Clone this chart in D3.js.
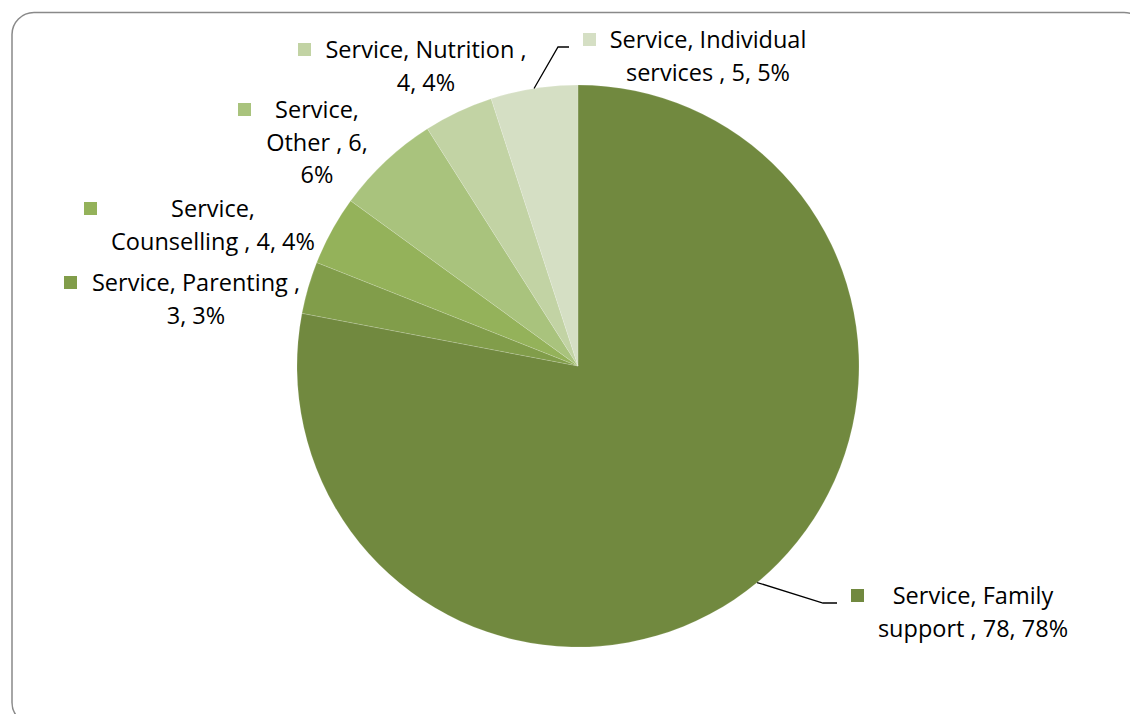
<!DOCTYPE html>
<html>
<head>
<meta charset="utf-8">
<script src="https://cdn.jsdelivr.net/npm/d3@7"></script>
<style>
  html, body { margin: 0; padding: 0; background: #fff; }
  svg { display: block; }
  text { font-family: "Open Sans", "Noto Sans", sans-serif; font-size: 23.5px; fill: #000; }
</style>
</head>
<body>
<svg id="chart" width="1130" height="714"></svg>
<script>
// Services by type (count and share)
const categories = [
  "Family support", "Parenting", "Counselling", "Other", "Nutrition", "Individual services"
];
const values = [78, 3, 4, 6, 4, 5];
const colors = ["#71893f", "#819d4a", "#94b25a", "#a9c37d", "#c2d3a4", "#d5dfc4"];

// How each label wraps onto lines
const labelBreaks = [
  ["Service, Family", "support , {v}, {p}"],
  ["Service, Parenting ,", "{v}, {p}"],
  ["Service,", "Counselling , {v}, {p}"],
  ["Service,", "Other , {v},", "{p}"],
  ["Service, Nutrition ,", "{v}, {p}"],
  ["Service, Individual", "services , {v}, {p}"]
];

// Label placement: text centre x, first line y, marker x, and optional leader elbow
const labelLayout = [
  { cx: 973, y: 596, mx: 851, leader: [[823, 603], [837, 603]] },
  { cx: 196, y: 283, mx: 64 },
  { cx: 213, y: 209, mx: 84 },
  { cx: 317, y: 110, mx: 238 },
  { cx: 426, y: 50,  mx: 298 },
  { cx: 708, y: 40,  mx: 583, leader: [[558, 47], [569, 47]] }
];

const svg = d3.select("#chart");

// Rounded chart-area frame
svg.append("rect")
  .attr("x", 12).attr("y", 12.5)
  .attr("width", 1134).attr("height", 712)
  .attr("rx", 22).attr("ry", 22)
  .attr("fill", "#fff")
  .attr("stroke", "#898989")
  .attr("stroke-width", 1.5);

const cx = 578, cy = 366, R = 281;
const total = d3.sum(values);

const pie = d3.pie().sort(null).value(d => d)(values);
const arc = d3.arc().innerRadius(0).outerRadius(R);

const g = svg.append("g").attr("transform", `translate(${cx},${cy})`);
g.selectAll("path.slice")
  .data(pie)
  .join("path")
  .attr("class", "slice")
  .attr("d", arc)
  .attr("fill", (d, i) => colors[i])
  .attr("stroke", "rgba(255,255,255,0.3)")
  .attr("stroke-width", 0.5);

const lineH = 32.5;

pie.forEach((d, i) => {
  const lay = labelLayout[i];
  const v = values[i];
  const p = Math.round(v / total * 100) + "%";
  const lines = labelBreaks[i].map(s => s.replace("{v}", v).replace("{p}", p));

  // leader line from the slice edge at its mid angle
  if (lay.leader) {
    const mid = (d.startAngle + d.endAngle) / 2;
    const sx = cx + R * Math.sin(mid), sy = cy - R * Math.cos(mid);
    const pts = [[sx, sy]].concat(lay.leader);
    svg.append("path")
      .attr("d", d3.line()(pts))
      .attr("fill", "none")
      .attr("stroke", "#000")
      .attr("stroke-width", 1.3);
  }

  // legend key square
  svg.append("rect")
    .attr("x", lay.mx).attr("y", lay.y - 7)
    .attr("width", 13).attr("height", 13)
    .attr("fill", colors[i]);

  const t = svg.append("text")
    .attr("text-anchor", "middle");
  lines.forEach((ln, k) => {
    t.append("tspan")
      .attr("x", lay.cx)
      .attr("y", lay.y + k * lineH)
      .attr("dy", "0.35em")
      .text(ln);
  });
});
</script>
</body>
</html>
